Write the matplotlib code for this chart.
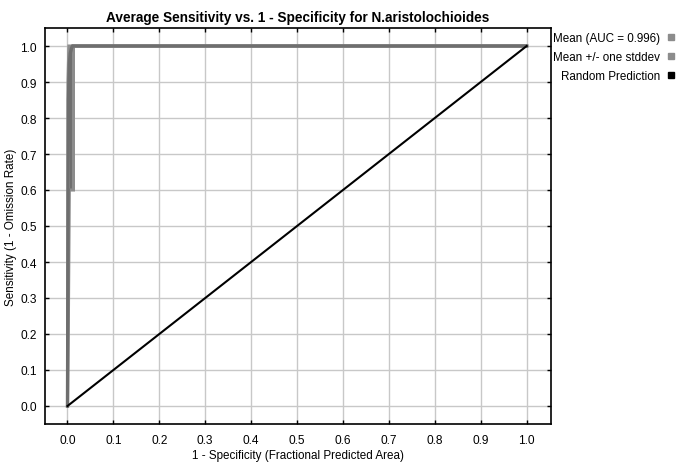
import matplotlib
matplotlib.use("Agg")
import matplotlib.pyplot as plt
from matplotlib.lines import Line2D

plt.rcParams['font.family'] = ['Liberation Sans', 'DejaVu Sans']

# mean ROC curve
mean_x = [0.0, 0.002, 0.004, 0.006, 0.009, 0.011, 1.0]
mean_y = [0.0, 0.85, 0.95, 0.98, 0.995, 1.0, 1.0]
# mean + one stddev
upper_x = [0.0, 0.001, 0.003, 1.0]
upper_y = [0.0, 0.9, 1.0, 1.0]
# mean - one stddev
lower_x = [0.0, 0.002, 0.004, 0.013, 0.013, 1.0]
lower_y = [0.0, 0.25, 0.6, 0.6, 1.0, 1.0]
# random prediction
rand_x = [0.0, 1.0]
rand_y = [0.0, 1.0]

ticks = [i / 10 for i in range(11)]
labels = ["Mean (AUC = 0.996)", "Mean +/- one stddev", "Random Prediction"]

W, H = 680, 464
fig = plt.figure(figsize=(W / 100, H / 100), dpi=100)
ax = fig.add_axes([45 / W, 1 - 425 / H, (551 - 45) / W, (425 - 29) / H])

ax.fill_betweenx([0.6, 1.0], [0.004, 0.002], [0.013, 0.013], color='#6e6e6e', lw=0)
ax.plot(lower_x, lower_y, color='#8c8c8c', lw=2.2, solid_joinstyle='miter')
ax.plot(upper_x, upper_y, color='#8c8c8c', lw=2.2, solid_joinstyle='miter')
ax.plot(mean_x, mean_y, color='#6e6e6e', lw=2.4, solid_joinstyle='miter')
ax.plot(rand_x, rand_y, color='black', lw=1.5)

ax.set_xlim(-0.049, 1.053)
ax.set_ylim(-0.05, 1.05)
ax.set_xticks(ticks)
ax.set_yticks(ticks)
ax.set_xticklabels([f"{t:.1f}" for t in ticks])
ax.set_yticklabels([f"{t:.1f}" for t in ticks])
ax.grid(True, color='#c8c8c8', lw=1)
ax.set_axisbelow(True)
ax.tick_params(direction='in', length=3, width=1, labelsize=8.6, colors='black',
               top=True, right=True, pad=7)
ax.tick_params(axis='y', pad=6)
for s in ax.spines.values():
    s.set_linewidth(1.2)

ax.set_title("Average Sensitivity vs. 1 - Specificity for N.aristolochioides",
             fontsize=9.8, fontweight='bold', pad=5)
ax.set_xlabel("1 - Specificity (Fractional Predicted Area)", fontsize=8.4)
ax.set_ylabel("Sensitivity (1 - Omission Rate)", fontsize=8.4)
ax.xaxis.set_label_coords(0.5, -0.062)
ax.yaxis.set_label_coords(-0.056, 0.5)

handles = [Line2D([], [], ls='none', marker='s', ms=4, color='#8c8c8c'),
           Line2D([], [], ls='none', marker='s', ms=4, color='#8c8c8c'),
           Line2D([], [], ls='none', marker='s', ms=4, color='black')]
fig.legend(handles, labels, loc='upper right', bbox_to_anchor=(1.0, 1 - 27 / H),
           frameon=False, markerfirst=False, fontsize=8.4, handlelength=0.6,
           handletextpad=0.6, labelspacing=0.62, borderpad=0.2, borderaxespad=0.3)

fig.savefig("out.png", dpi=100)
